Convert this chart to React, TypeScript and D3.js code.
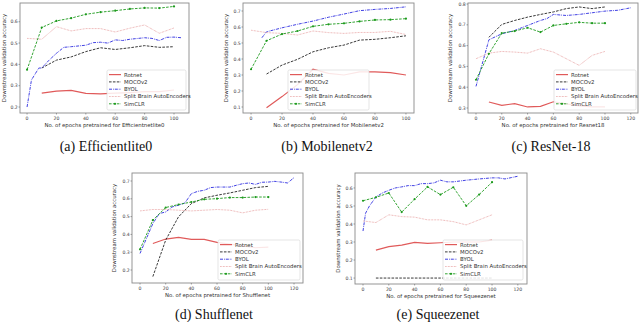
import React from "react";
import * as d3 from "d3";

// epochs shared by most series
const EPOCHS_0 = [0, 10, 20, 30, 40, 50, 60, 70, 80, 90, 100];
const EPOCHS_10 = [10, 20, 30, 40, 50, 60, 70, 80, 90, 100];

const SERIES_NAMES = ["Rotnet", "MOCOv2", "BYOL", "Split Brain AutoEncoders", "SimCLR"];

// (a) Efficientlite0
const effRotnet = [0.265, 0.275, 0.278, 0.264, 0.262, 0.265, 0.268, 0.272, 0.272, 0.28];
const effMoco = [0.383, 0.42, 0.435, 0.46, 0.478, 0.47, 0.478, 0.488, 0.48, 0.483];
const effByolX = [0, 3, 8, 10, 15, 20, 25, 30, 40, 45, 50, 55, 60, 65, 70, 80, 85, 90, 95, 100, 105];
const effByol = [0.2, 0.327, 0.383, 0.383, 0.42, 0.452, 0.48, 0.483, 0.49, 0.502, 0.504, 0.5, 0.515, 0.512, 0.518, 0.525, 0.522, 0.512, 0.527, 0.528, 0.525];
const effSplit = [0.522, 0.518, 0.577, 0.557, 0.568, 0.568, 0.552, 0.57, 0.585, 0.546, 0.571];
const effSimclr = [0.375, 0.573, 0.604, 0.617, 0.635, 0.645, 0.652, 0.66, 0.665, 0.664, 0.672];

// (b) Mobilenetv2
const mobRotnet = [0.096, 0.165, 0.24, 0.336, 0.31, 0.3, 0.32, 0.32, 0.315, 0.3];
const mobMoco = [0.306, 0.362, 0.398, 0.445, 0.47, 0.487, 0.518, 0.523, 0.533, 0.545];
const mobByolX = [7, 10, 20, 30, 40, 50, 60, 70, 80, 90, 100];
const mobByol = [0.533, 0.57, 0.595, 0.617, 0.637, 0.661, 0.681, 0.702, 0.71, 0.716, 0.726];
const mobSplit = [0.58, 0.565, 0.56, 0.55, 0.575, 0.565, 0.56, 0.566, 0.566, 0.573, 0.553];
const mobSimclr = [0.336, 0.514, 0.556, 0.575, 0.604, 0.617, 0.623, 0.635, 0.644, 0.646, 0.652];

// (c) ResNet-18
const resRotnet = [0.329, 0.313, 0.321, 0.305, 0.308, 0.33, 0.32, 0.31, 0.305, 0.305];
const resMoco = [0.64, 0.702, 0.721, 0.737, 0.75, 0.762, 0.778, 0.786, 0.778, 0.786];
const resByolX = [0, 10, 20, 30, 40, 50, 55, 60, 70, 80, 90, 100, 110, 120];
const resByol = [0.404, 0.628, 0.657, 0.673, 0.697, 0.721, 0.73, 0.75, 0.745, 0.75, 0.758, 0.766, 0.77, 0.782];
const resSplit = [0.537, 0.564, 0.572, 0.569, 0.564, 0.585, 0.569, 0.537, 0.505, 0.553, 0.572];
const resSimclr = [0.436, 0.561, 0.66, 0.67, 0.686, 0.665, 0.697, 0.705, 0.712, 0.708, 0.708];

// (d) Shufflenet
const shuRotnet = [0.349, 0.374, 0.383, 0.372, 0.372, 0.355, 0.345, 0.335, 0.325, 0.328];
const shuMoco = [0.163, 0.368, 0.499, 0.573, 0.605, 0.62, 0.633, 0.648, 0.663, 0.67];
const shuByolX = [0, 10, 15, 20, 25, 30, 35, 40, 45, 50, 55, 60, 70, 75, 80, 85, 90, 95, 100, 105, 110, 115, 120];
const shuByol = [0.293, 0.461, 0.517, 0.526, 0.554, 0.564, 0.577, 0.629, 0.642, 0.648, 0.663, 0.666, 0.666, 0.676, 0.685, 0.689, 0.681, 0.693, 0.694, 0.698, 0.694, 0.689, 0.719];
const shuSplit = [0.532, 0.54, 0.54, 0.536, 0.532, 0.536, 0.54, 0.536, 0.521, 0.536, 0.541];
const shuSimclr = [0.316, 0.48, 0.551, 0.568, 0.582, 0.597, 0.601, 0.607, 0.607, 0.61, 0.61];

// (e) Squeezenet
const sqzRotnet = [0.255, 0.274, 0.283, 0.298, 0.292, 0.296, 0.3, 0.3, 0.3, 0.31];
const sqzMoco = [0.1, 0.1, 0.1, 0.1, 0.1, 0.1, 0.1, 0.1, 0.1, 0.1];
const sqzByolX = [0, 2, 5, 10, 15, 20, 25, 30, 35, 40, 45, 50, 55, 60, 65, 70, 80, 90, 100, 105, 110, 120];
const sqzByol = [0.361, 0.46, 0.5, 0.55, 0.572, 0.587, 0.6, 0.606, 0.613, 0.613, 0.624, 0.624, 0.628, 0.643, 0.634, 0.634, 0.643, 0.65, 0.656, 0.656, 0.65, 0.665];
const sqzSplit = [0.417, 0.408, 0.451, 0.441, 0.438, 0.423, 0.423, 0.413, 0.395, 0.423, 0.451];
const sqzSimclr = [0.529, 0.548, 0.572, 0.466, 0.538, 0.606, 0.563, 0.604, 0.501, 0.563, 0.632];

const TICKS_100 = [0, 20, 40, 60, 80, 100];
const TICKS_120 = [0, 20, 40, 60, 80, 100, 120];

const STYLES = [
  { color: "#e05a5a", dash: "none", width: 1.2 },
  { color: "#222222", dash: "2.6,1.3", width: 0.9 },
  { color: "#2b2be0", dash: "3,1,0.8,1", width: 0.9 },
  { color: "#e9a3a3", dash: "0.7,0.8", width: 1.0 },
  { color: "#1c9a1c", dash: "2.6,1.3", width: 0.9 },
];

const sans = "DejaVu Sans, sans-serif";

function zip(xs, ys) {
  return xs.map((x, i) => [x, ys[i]]);
}

function Panel({ box, xDomain, yDomain, xTicks, yTicks, series, legend, xLabel, yLabelX, caption, captionX, captionY }) {
  const x = d3.scaleLinear().domain(xDomain).range([box.left, box.right]);
  const y = d3.scaleLinear().domain(yDomain).range([box.bottom, box.top]);
  const line = d3.line().x((d) => x(d[0])).y((d) => y(d[1]));
  const cy = (box.top + box.bottom) / 2;
  const cx = (box.left + box.right) / 2;
  const clipId = "clip" + Math.round(box.left) + "_" + Math.round(box.top);

  return (
    <g>
      <defs>
        <clipPath id={clipId}>
          <rect x={box.left} y={box.top} width={box.right - box.left} height={box.bottom - box.top} />
        </clipPath>
      </defs>
      <rect x={box.left} y={box.top} width={box.right - box.left} height={box.bottom - box.top} fill="#fff" />
      <g clipPath={`url(#${clipId})`}>
        {series.map((s, i) => (
          <path key={i} d={line(s)} fill="none" stroke={STYLES[i].color} strokeWidth={STYLES[i].width} strokeDasharray={STYLES[i].dash} />
        ))}
        {series[4].map((d, i) => (
          <circle key={i} cx={x(d[0])} cy={y(d[1])} r={1.1} fill={STYLES[4].color} />
        ))}
      </g>
      <rect x={box.left} y={box.top} width={box.right - box.left} height={box.bottom - box.top} fill="none" stroke="#8a8a8a" strokeWidth={0.9} />
      {xTicks.map((t) => (
        <g key={"x" + t}>
          <line x1={x(t)} x2={x(t)} y1={box.bottom} y2={box.bottom + 1.5} stroke="#666" strokeWidth={0.6} />
          <text x={x(t)} y={box.bottom + 6.8} fontSize={4.6} fontFamily={sans} fill="#444" textAnchor="middle">{t}</text>
        </g>
      ))}
      {yTicks.map((t) => (
        <g key={"y" + t}>
          <line x1={box.left - 1.5} x2={box.left} y1={y(t)} y2={y(t)} stroke="#666" strokeWidth={0.6} />
          <text x={box.left - 2.2} y={y(t) + 1.6} fontSize={4.6} fontFamily={sans} fill="#444" textAnchor="end">{d3.format(".1f")(t)}</text>
        </g>
      ))}
      <text x={cx} y={box.bottom + 13.6} fontSize={5.4} fontFamily={sans} fill="#333" textAnchor="middle">{xLabel}</text>
      <text transform={`translate(${yLabelX},${cy}) rotate(-90)`} dy="0.35em" fontSize={5.4} fontFamily={sans} fill="#333" textAnchor="middle">Downstream validation accuracy</text>
      <g transform={`translate(${legend.x},${legend.y})`}>
        <rect x={0} y={0} width={legend.w} height={40} rx={1.5} fill="#fff" fillOpacity={0.85} stroke="#d4d4d4" strokeWidth={0.6} />
        {SERIES_NAMES.map((name, i) => {
          const ly = 4.6 + i * 7.3;
          return (
            <g key={name}>
              <line x1={2} x2={14} y1={ly} y2={ly} stroke={STYLES[i].color} strokeWidth={STYLES[i].width} strokeDasharray={STYLES[i].dash} />
              {i === 4 && <circle cx={8} cy={ly} r={1.1} fill={STYLES[4].color} />}
              <text x={17} y={ly + 1.9} fontSize={5.4} fontFamily={sans} fill="#333">{name}</text>
            </g>
          );
        })}
      </g>
      <text x={captionX} y={captionY} fontSize={14} fontFamily="Liberation Serif, DejaVu Serif, serif" fill="#111" textAnchor="middle">{caption}</text>
    </g>
  );
}

export default function App() {
  return (
    <svg width={640} height={322} style={{ position: "absolute", left: 0, top: 0, background: "#fff" }}>
      <Panel
        box={{ left: 20, right: 189, top: 3, bottom: 113 }}
        xDomain={[-4.8, 110.2]}
        yDomain={[0.172, 0.688]}
        xTicks={TICKS_100}
        yTicks={[0.2, 0.3, 0.4, 0.5, 0.6]}
        series={[zip(EPOCHS_10, effRotnet), zip(EPOCHS_10, effMoco), zip(effByolX, effByol), zip(EPOCHS_0, effSplit), zip(EPOCHS_0, effSimclr)]}
        legend={{ x: 107, y: 70, w: 79 }}
        xLabel="No. of epochs pretrained for Efficientnetlite0"
        yLabelX={4}
        caption="(a) Efficientlite0"
        captionX={106}
        captionY={151}
      />
      <Panel
        box={{ left: 243, right: 414, top: 3, bottom: 113 }}
        xDomain={[-5.2, 105.2]}
        yDomain={[0.0625, 0.75]}
        xTicks={TICKS_100}
        yTicks={[0.1, 0.2, 0.3, 0.4, 0.5, 0.6, 0.7]}
        series={[zip(EPOCHS_10, mobRotnet), zip(EPOCHS_10, mobMoco), zip(mobByolX, mobByol), zip(EPOCHS_0, mobSplit), zip(EPOCHS_0, mobSimclr)]}
        legend={{ x: 288, y: 70, w: 81 }}
        xLabel="No. of epochs pretrained for Mobilenetv2"
        yLabelX={226}
        caption="(b) Mobilenetv2"
        captionX={327}
        captionY={151}
      />
      <Panel
        box={{ left: 468, right: 638, top: 3, bottom: 113 }}
        xDomain={[-6.2, 125.6]}
        yDomain={[0.276, 0.805]}
        xTicks={TICKS_120}
        yTicks={[0.3, 0.4, 0.5, 0.6, 0.7, 0.8]}
        series={[zip(EPOCHS_10, resRotnet), zip(EPOCHS_10, resMoco), zip(resByolX, resByol), zip(EPOCHS_0, resSplit), zip(EPOCHS_0, resSimclr)]}
        legend={{ x: 554, y: 70, w: 82 }}
        xLabel="No. of epochs pretrained for Resnet18"
        yLabelX={450}
        caption="(c) ResNet-18"
        captionX={551}
        captionY={151}
      />
      <Panel
        box={{ left: 132, right: 303, top: 173, bottom: 283 }}
        xDomain={[-6.25, 127]}
        yDomain={[0.127, 0.745]}
        xTicks={TICKS_120}
        yTicks={[0.2, 0.3, 0.4, 0.5, 0.6, 0.7]}
        series={[zip(EPOCHS_10, shuRotnet), zip(EPOCHS_10, shuMoco), zip(shuByolX, shuByol), zip(EPOCHS_0, shuSplit), zip(EPOCHS_0, shuSimclr)]}
        legend={{ x: 218, y: 240, w: 82 }}
        xLabel="No. of epochs pretrained for Shufflenet"
        yLabelX={114}
        caption="(d) Shufflenet"
        captionX={214}
        captionY={319}
      />
      <Panel
        box={{ left: 355, right: 527, top: 173, bottom: 284 }}
        xDomain={[-6.2, 127.1]}
        yDomain={[0.067, 0.683]}
        xTicks={TICKS_120}
        yTicks={[0.1, 0.2, 0.3, 0.4, 0.5, 0.6]}
        series={[zip(EPOCHS_10, sqzRotnet), zip(EPOCHS_10, sqzMoco), zip(sqzByolX, sqzByol), zip(EPOCHS_0, sqzSplit), zip(EPOCHS_0, sqzSimclr)]}
        legend={{ x: 443, y: 240, w: 80 }}
        xLabel="No. of epochs pretrained for Squeezenet"
        yLabelX={338}
        caption="(e) Squeezenet"
        captionX={438}
        captionY={319}
      />
    </svg>
  );
}
